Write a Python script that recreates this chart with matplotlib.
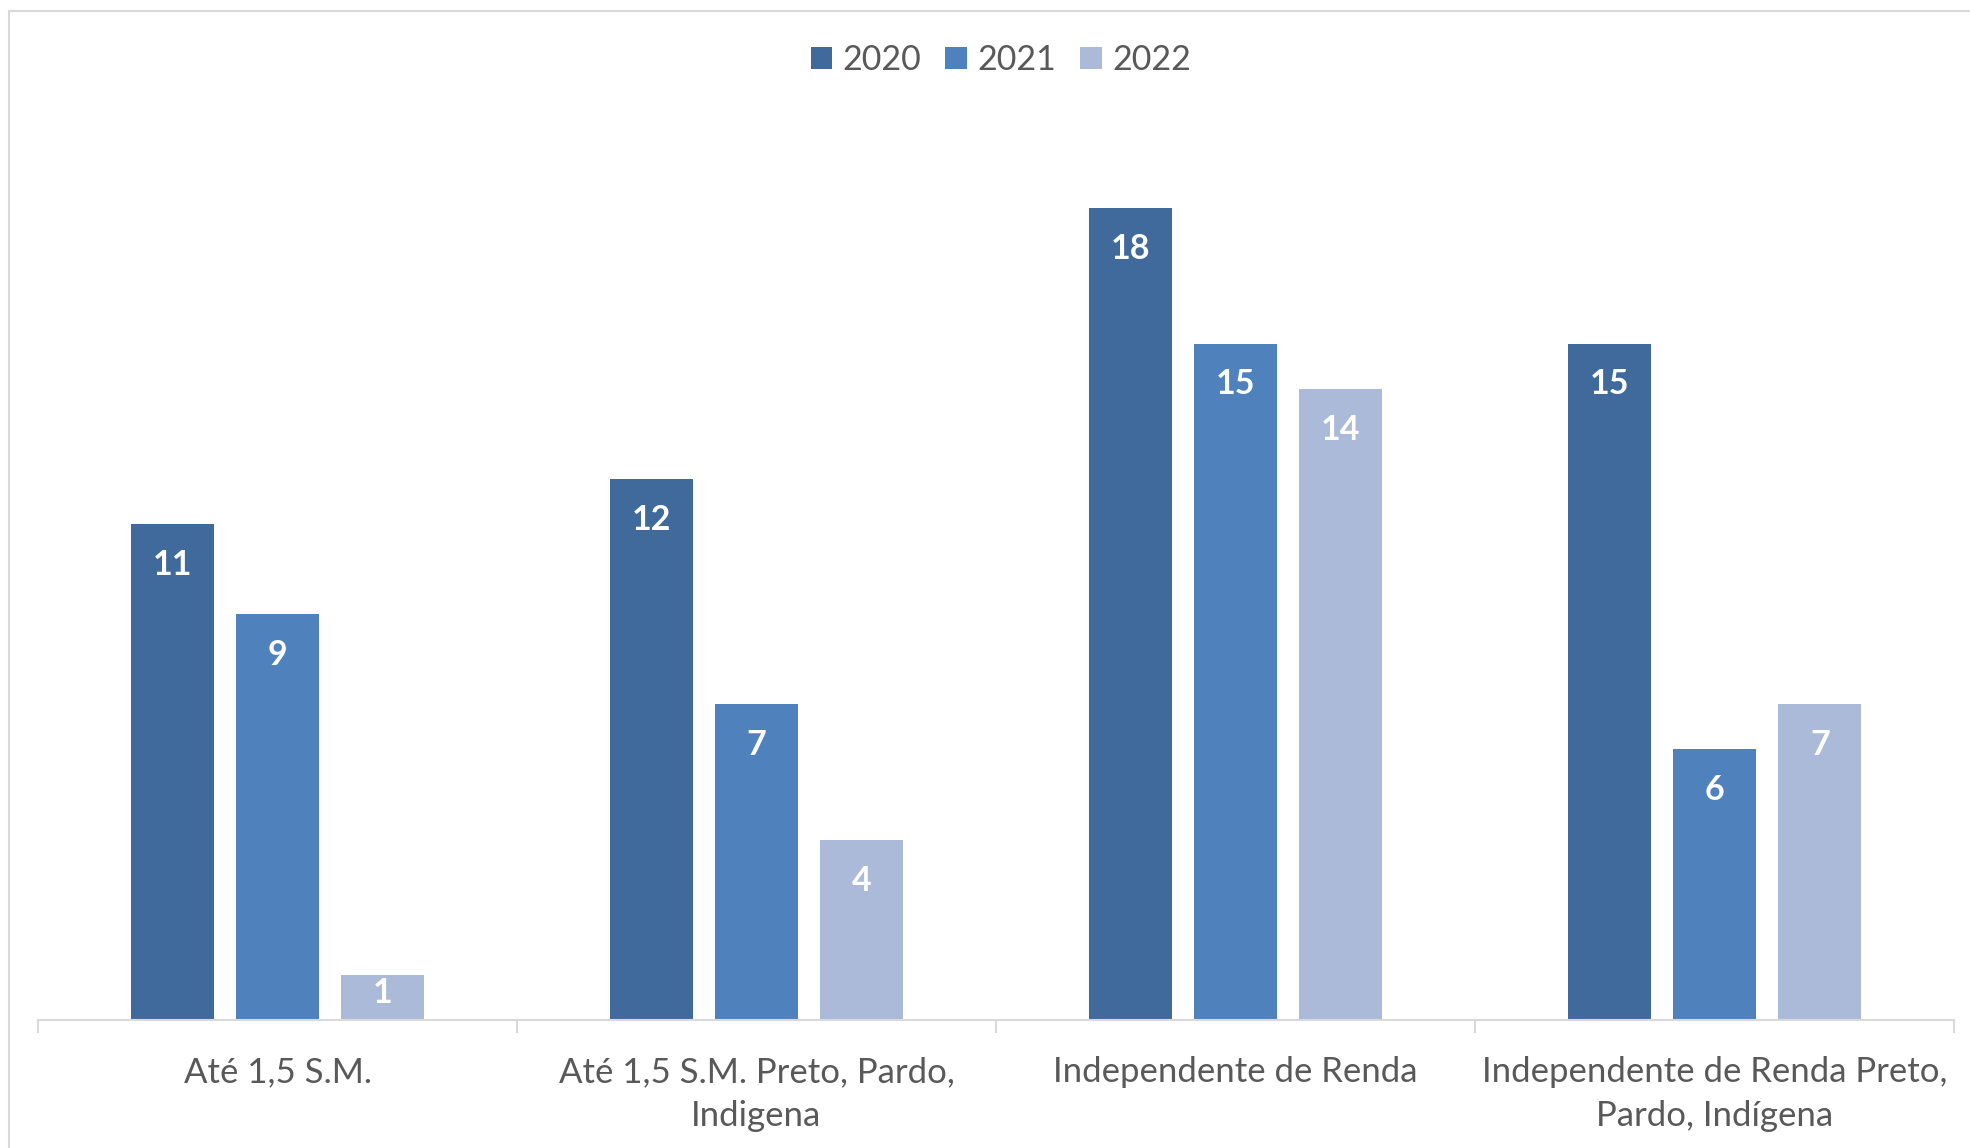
import matplotlib

matplotlib.use("Agg")
import matplotlib.pyplot as plt
import numpy as np
from matplotlib.patches import Rectangle

# data
categories = ["Até 1,5 S.M.", "Até 1,5 S.M. Preto, Pardo,\nIndigena",
              "Independente de Renda", "Independente de Renda Preto,\nPardo, Indígena"]
years = ["2020", "2021", "2022"]
v2020 = [11, 12, 18, 15]
v2021 = [9, 7, 15, 6]
v2022 = [1, 4, 14, 7]

COLORS = ["#416A9C", "#4F81BD", "#ABBAD8"]
TEXT = "#595959"
LINE = "#D9D9D9"

plt.rcParams["font.family"] = ["Lato", "DejaVu Sans"]

W, H = 1970, 1148
fig = plt.figure(figsize=(W / 100, H / 100), dpi=100)
ax = fig.add_axes([38 / W, 1 - 1020 / H, (1954 - 38) / W, (1020 - 118) / H])

x = np.arange(len(categories))
width = 0.173
step = 0.22
for i, (vals, yr) in enumerate(zip([v2020, v2021, v2022], years)):
    xs = x + (i - 1) * step
    ax.bar(xs, vals, width=width, color=COLORS[i], label=yr, zorder=2)
    for xi, v in zip(xs, vals):
        off = -1.5 if v < 2 else -18
        ax.annotate(str(v), (xi, v), xytext=(0, off), textcoords="offset points",
                    ha="center", va="top", color="white", fontsize=24.5,
                    fontweight="bold", zorder=3)

ax.set_xlim(-0.5, len(categories) - 0.5)
ax.set_ylim(0, 20)
ax.set_yticks([])
ax.set_xticks(x)
ax.set_xticklabels(categories, fontsize=25, color=TEXT, linespacing=1.45)
ax.tick_params(axis="x", which="major", length=0, pad=26)
ax.set_xticks(np.arange(len(categories) + 1) - 0.5, minor=True)
ax.tick_params(axis="x", which="minor", length=9, width=1.5, color=LINE)
for s in ("top", "right", "left"):
    ax.spines[s].set_visible(False)
ax.spines["bottom"].set_color(LINE)
ax.spines["bottom"].set_linewidth(1.5)

ax.legend(loc="center", bbox_to_anchor=(1001 / W, 1 - 60 / H), bbox_transform=fig.transFigure,
          ncol=3, frameon=False, fontsize=24.5, labelcolor=TEXT,
          handlelength=0.63, handleheight=0.63, handletextpad=0.32, columnspacing=0.7)

# chart border
fig.patches.append(Rectangle((9 / W, -0.05), 1.2, 1 - 11 / H + 0.05, transform=fig.transFigure,
                             fill=False, edgecolor=LINE, lw=1.5, zorder=0))

fig.savefig("out.png", dpi=100, facecolor="white")
